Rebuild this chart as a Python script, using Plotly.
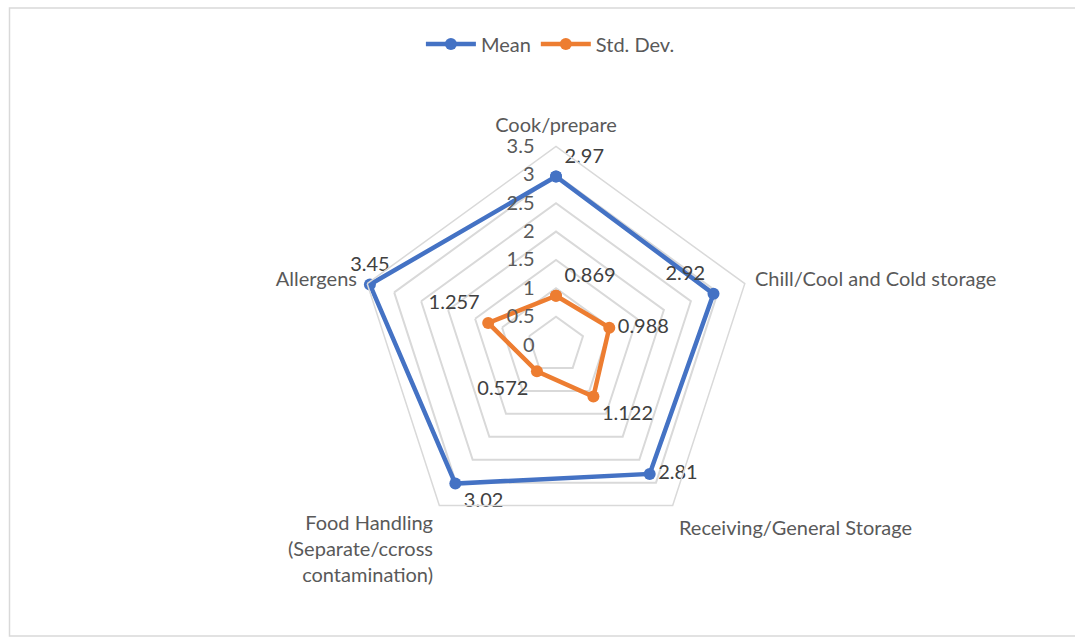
import plotly.graph_objects as go

categories = ["Cook/prepare", "Chill/Cool and Cold storage", "Receiving/General Storage",
              "Food Handling<br>(Separate/ccross<br>contamination)", "Allergens"]
mean_vals = [2.97, 2.92, 2.81, 3.02, 3.45]
std_vals = [0.869, 0.988, 1.122, 0.572, 1.257]
mean_labels = ["2.97", "2.92", "2.81", "3.02", "3.45"]
std_labels = ["0.869", "0.988", "1.122", "0.572", "1.257"]
radial_ticks = [0, 0.5, 1, 1.5, 2, 2.5, 3, 3.5]

FONT = "Lato"
TXT = "#595959"
LBL = "#404040"
FS = 20

def closed(v):
    return list(v) + [v[0]]

fig = go.Figure()
fig.add_trace(go.Scatterpolar(
    r=closed(mean_vals), theta=closed(categories), name="Mean",
    mode="lines+markers+text",
    text=mean_labels + [""],
    textposition=["top right", "top left", "middle right", "bottom right", "top center", "top center"],
    textfont=dict(family=FONT, size=FS, color=LBL),
    line=dict(color="#4472C4", width=4.5),
    marker=dict(size=12, color="#4472C4"),
    cliponaxis=False,
))
fig.add_trace(go.Scatterpolar(
    r=closed(std_vals), theta=closed(categories), name="Std. Dev.",
    mode="lines+markers+text",
    text=std_labels + [""],
    textposition=["top right", "middle right", "bottom right", "bottom left", "top left", "top center"],
    textfont=dict(family=FONT, size=FS, color=LBL),
    line=dict(color="#ED7D31", width=4.5),
    marker=dict(size=12, color="#ED7D31"),
    cliponaxis=False,
))

fig.update_layout(
    width=1075, height=638,
    margin=dict(l=0, r=0, t=0, b=0),
    paper_bgcolor="white",
    font=dict(family=FONT, size=FS, color=TXT),
    showlegend=True,
    legend=dict(orientation="h", x=0.512, xanchor="center", y=1 - 44 / 638, yanchor="middle",
                font=dict(family=FONT, size=FS, color=TXT), itemwidth=50),
    polar=dict(
        domain=dict(x=[357.5 / 1075, 754.5 / 1075], y=[94.5 / 638, 491.5 / 638]),
        bgcolor="white",
        gridshape="linear",
        radialaxis=dict(range=[0, 3.5], tickvals=radial_ticks,
                        ticktext=[f"{t:g}" for t in radial_ticks],
                        angle=90, tickangle=90, side="counterclockwise", showline=False,
                        ticks="outside", ticklen=14, tickcolor="rgba(0,0,0,0)",
                        gridcolor="#D9D9D9", gridwidth=1.5,
                        tickfont=dict(family=FONT, size=FS, color=TXT)),
        angularaxis=dict(direction="clockwise", rotation=90, showgrid=False,
                         showline=True, linecolor="#D9D9D9", linewidth=1.5,
                         ticks="outside", ticklen=6, tickcolor="rgba(0,0,0,0)",
                         tickfont=dict(family=FONT, size=FS, color=TXT)),
    ),
    shapes=[dict(type="rect", xref="paper", yref="paper",
                 x0=9.5 / 1075, x1=1.01, y0=2 / 638, y1=630 / 638,
                 line=dict(color="#D9D9D9", width=1.5), fillcolor="rgba(0,0,0,0)")],
)

fig.write_html("out.html")
